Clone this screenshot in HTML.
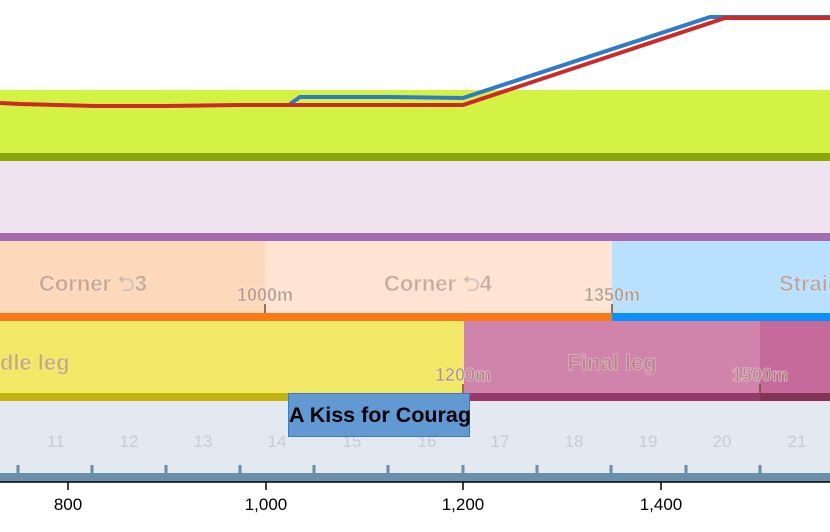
<!DOCTYPE html>
<html><head><meta charset="utf-8"><style>
body{margin:0;width:830px;height:527px;overflow:hidden;background:#fff;font-family:"Liberation Sans",sans-serif}
</style></head><body>
<svg width="830" height="527" xmlns="http://www.w3.org/2000/svg" font-family="Liberation Sans, sans-serif">
<rect x="0" y="90" width="830" height="63" fill="#d4f244"/>
<rect x="0" y="153" width="830" height="8" fill="#8aa808"/>
<rect x="0" y="161" width="830" height="72" fill="#efe3f0"/>
<rect x="0" y="233" width="830" height="8" fill="#a36bb0"/>
<rect x="0" y="241" width="265" height="72" fill="#fdd8ba"/>
<rect x="265" y="241" width="347" height="72" fill="#ffe4d3"/>
<rect x="612" y="241" width="218" height="72" fill="#b9e0fe"/>
<rect x="0" y="313" width="612" height="8" fill="#f97a16"/>
<rect x="612" y="313" width="218" height="8" fill="#0b90f9"/>
<rect x="0" y="321" width="464" height="72" fill="#f2e866"/>
<rect x="464" y="321" width="296" height="72" fill="#d084ac"/>
<rect x="760" y="321" width="70" height="72" fill="#c66a9b"/>
<rect x="0" y="393" width="464" height="8" fill="#c2b40c"/>
<rect x="464" y="393" width="296" height="8" fill="#973a6a"/>
<rect x="760" y="393" width="70" height="8" fill="#843258"/>
<rect x="0" y="401" width="830" height="72" fill="#e3e9f0"/>
<rect x="0" y="473" width="830" height="9" fill="#6a8fa8"/>
<g stroke="#6a8fa8" stroke-width="3">
<line x1="18" y1="465" x2="18" y2="474"/><line x1="92" y1="465" x2="92" y2="474"/><line x1="166" y1="465" x2="166" y2="474"/><line x1="240" y1="465" x2="240" y2="474"/><line x1="314" y1="465" x2="314" y2="474"/><line x1="388" y1="465" x2="388" y2="474"/><line x1="463" y1="465" x2="463" y2="474"/><line x1="537" y1="465" x2="537" y2="474"/><line x1="611" y1="465" x2="611" y2="474"/><line x1="686" y1="465" x2="686" y2="474"/><line x1="760" y1="465" x2="760" y2="474"/>
</g>
<g fill="#c3cdd8" font-size="17" text-anchor="middle">
<text x="56" y="447">11</text><text x="129" y="447">12</text><text x="203" y="447">13</text><text x="277" y="447">14</text><text x="352" y="447">15</text><text x="427" y="447">16</text><text x="500" y="447">17</text><text x="574" y="447">18</text><text x="648" y="447">19</text><text x="722" y="447">20</text><text x="797" y="447">21</text>
</g>
<g font-size="22" font-weight="bold" fill="#a8826e" fill-opacity="0.6" stroke="#fff" stroke-opacity="0.35" stroke-width="1" text-anchor="middle">
<text x="93" y="291">Corner ⮌3</text>
<text x="438" y="291">Corner ⮌4</text>
<text x="779" y="291" text-anchor="start">Straig</text>
<text x="28" y="370">ddle leg</text>
<text x="612" y="370">Final leg</text>
</g>
<g font-size="18" font-weight="bold" fill="#a07e68" fill-opacity="0.75" stroke="#fff" stroke-opacity="0.45" stroke-width="1" text-anchor="middle">
<text x="265" y="301">1000m</text><text x="612" y="301">1350m</text><text x="463" y="381">1200m</text><text x="760" y="381">1500m</text>
</g>
<g stroke="#7a4a2a" stroke-width="1.5">
<line x1="265" y1="304" x2="265" y2="313"/><line x1="612" y1="304" x2="612" y2="313"/><line x1="463" y1="384" x2="463" y2="393"/><line x1="760" y1="384" x2="760" y2="393"/>
</g>
<svg x="288" y="393" width="182" height="44">
<rect x="0.5" y="0.5" width="181" height="43" fill="#6199d2" stroke="#3d7ac0"/>
<text x="1" y="29" font-size="21.5" font-weight="bold" fill="#000">A Kiss for Courage</text>
</svg>
<polyline points="290,104 300,97 390,97 463,98 710,17 830,17" fill="none" stroke="#2f7cc6" stroke-width="4"/>
<polyline points="0,103 20,104 95,106 165,106 240,105 390,105 463,105 725,18 830,18" fill="none" stroke="#cc2a2a" stroke-width="4"/>
<line x1="0" y1="482" x2="830" y2="482" stroke="#000" stroke-width="1.5"/>
<g stroke="#000" stroke-width="1.5">
<line x1="68" y1="482" x2="68" y2="490"/><line x1="266" y1="482" x2="266" y2="490"/><line x1="463" y1="482" x2="463" y2="490"/><line x1="661" y1="482" x2="661" y2="490"/>
</g>
<g font-size="17" fill="#000" text-anchor="middle">
<text x="68" y="510">800</text><text x="266" y="510">1,000</text><text x="463" y="510">1,200</text><text x="661" y="510">1,400</text>
</g>
</svg>
</body></html>
